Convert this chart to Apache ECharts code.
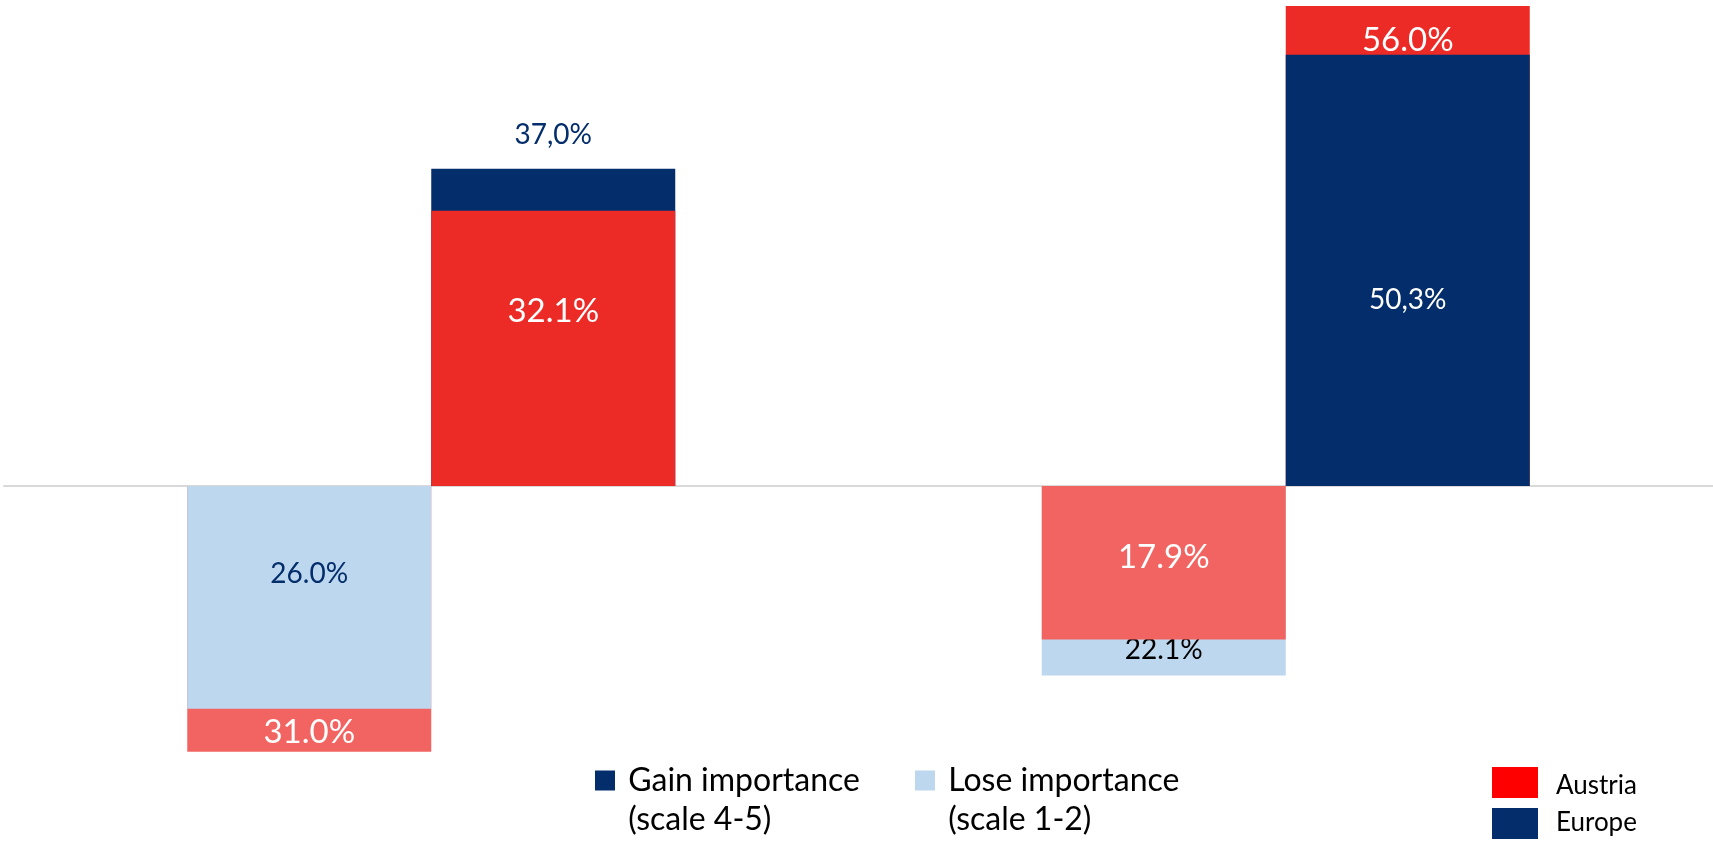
<!DOCTYPE html>
<html>
<head>
<meta charset="utf-8">
<title>Gain / lose importance – Austria vs Europe</title>
<script src="https://cdn.jsdelivr.net/npm/echarts@6/dist/echarts.min.js"></script>
<style>
  html, body { margin: 0; padding: 0; background: #ffffff; }
  #chart { width: 1713px; height: 841px; }
</style>
</head>
<body>
<div id="chart"></div>
<script>
// ---- data ----
const categories = ['Group 1', 'Group 2'];
const austriaGain = [32.1, 56.0];
const europeGain = [37.0, 50.3];
const austriaLose = [31.0, 17.9];
const europeLose = [26.0, 22.1];
const sideNames = { gain: 'Gain importance\n(scale 4-5)', lose: 'Lose importance\n(scale 1-2)' };
const countryNames = ['Austria', 'Europe'];

// ---- colours ----
const NAVY = '#032D6B';
const RED = '#EC2A26';
const LIGHT_RED = '#F26461';
const LIGHT_BLUE = '#BDD7EE';
const KEY_RED = '#FF0000';
const FONT = 'Lato';

const barColors = {
  gain: { austria: RED, europe: NAVY },
  lose: { austria: LIGHT_RED, europe: LIGHT_BLUE }
};

// label styling for each side, group and country
const labelStyle = {
  gain: [
    { austria: { position: 'inside', offset: [0, -37], color: '#ffffff' },
      europe: { position: 'top', distance: 20, color: NAVY } },
    { austria: { position: 'insideTop', distance: 18, color: '#ffffff' },
      europe: { position: 'inside', offset: [0, 30], color: '#ffffff' } }
  ],
  lose: [
    { austria: { position: 'insideBottom', distance: 3, color: '#ffffff' },
      europe: { position: 'inside', offset: [0, -23], color: NAVY } },
    { austria: { position: 'inside', offset: [0, -5], color: '#ffffff' },
      europe: { position: 'insideBottom', distance: 11, color: '#000000' } }
  ]
};

function fmt(v, mark) {
  return v.toFixed(1).replace('.', mark) + '%';
}

// one bar item, with its own colour and label
function barItem(side, i, country, value) {
  const st = labelStyle[side][i][country];
  const isAustria = country === 'austria';
  const mark = (side === 'gain' && !isAustria) ? ',' : '.';
  return {
    value: side === 'lose' ? -value : value,
    itemStyle: { color: barColors[side][country] },
    label: {
      show: true,
      position: st.position,
      distance: st.distance || 0,
      offset: st.offset || [0, 0],
      color: st.color,
      fontFamily: FONT,
      fontSize: isAustria ? 33 : 28,
      formatter: fmt(value, mark)
    }
  };
}

// per side: taller bar goes behind (xAxis 0), shorter one in front (xAxis 1)
function layers(side, austria, europe) {
  const back = [], front = [];
  categories.forEach((c, i) => {
    const a = barItem(side, i, 'austria', austria[i]);
    const e = barItem(side, i, 'europe', europe[i]);
    if (austria[i] >= europe[i]) { back.push(a); front.push(e); }
    else { back.push(e); front.push(a); }
  });
  return { back, front };
}

const lose = layers('lose', austriaLose, europeLose);
const gain = layers('gain', austriaGain, europeGain);

function barSeries(name, color, data, axis, z) {
  return {
    type: 'bar',
    name: name,
    xAxisIndex: axis,
    yAxisIndex: 0,
    barWidth: 244,
    barGap: '0%',
    z: z,
    itemStyle: { color: color },
    emphasis: { disabled: true },
    data: data
  };
}

const series = [
  barSeries(sideNames.lose, LIGHT_BLUE, lose.back, 0, 2),
  barSeries(sideNames.gain, NAVY, gain.back, 0, 2),
  barSeries(sideNames.lose, LIGHT_BLUE, lose.front, 1, 3),
  barSeries(sideNames.gain, NAVY, gain.front, 1, 3)
];

// legend: square beside the first line of a two-line name
function legendFor(name, color, left) {
  return {
    left: left,
    top: 722,
    padding: 0,
    icon: 'rect',
    itemWidth: 20,
    itemHeight: 20,
    selectedMode: false,
    data: [{ name: name, itemStyle: { color: color } }],
    formatter: n => '\n' + n.split('\n').map(s => ' ' + s).join('\n'),
    textStyle: {
      fontFamily: FONT,
      fontSize: 32,
      lineHeight: 39,
      color: '#000000'
    }
  };
}

const keyColors = [KEY_RED, NAVY];
const keyGraphics = [];
countryNames.forEach((n, k) => {
  keyGraphics.push({
    type: 'rect',
    left: 1492,
    top: 767 + k * 41,
    shape: { width: 46, height: 31 },
    style: { fill: keyColors[k] }
  });
  keyGraphics.push({
    type: 'text',
    left: 1556,
    top: 773 + k * 37,
    style: { text: n, fill: '#000000', font: '26px ' + FONT }
  });
});

const chart = echarts.init(document.getElementById('chart'), null, { renderer: 'canvas' });
chart.setOption({
  backgroundColor: '#ffffff',
  animation: false,
  grid: { left: 4, right: 0, top: 6, bottom: 12.14, containLabel: false },
  xAxis: [
    {
      type: 'category',
      data: categories,
      axisLine: { show: true, onZero: true, lineStyle: { color: '#D9D9D9', width: 2 } },
      axisTick: { show: false },
      axisLabel: { show: false },
      splitLine: { show: false }
    },
    {
      type: 'category',
      data: categories,
      show: false
    }
  ],
  yAxis: {
    type: 'value',
    min: -40,
    max: 56,
    show: false,
    splitLine: { show: false }
  },
  legend: [
    legendFor(sideNames.gain, NAVY, 595),
    legendFor(sideNames.lose, LIGHT_BLUE, 915)
  ],
  graphic: keyGraphics,
  series: series
});
</script>
</body>
</html>
